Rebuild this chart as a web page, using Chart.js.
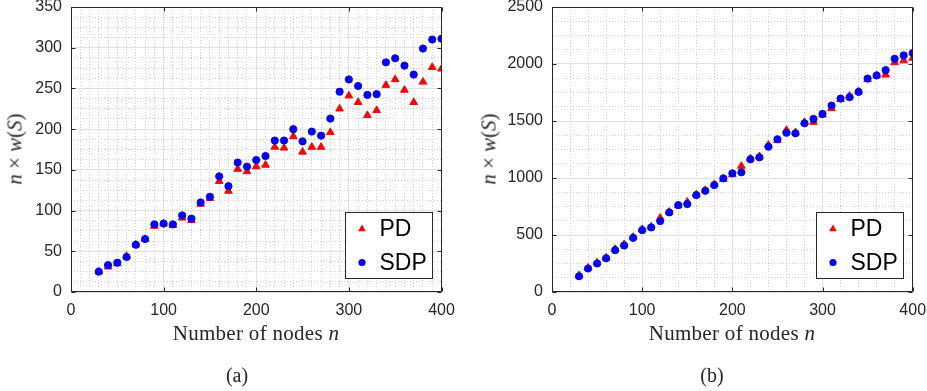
<!DOCTYPE html>
<html>
<head>
<meta charset="utf-8">
<script src="https://cdn.jsdelivr.net/npm/chart.js@4.4.1/dist/chart.umd.min.js"></script>
<style>
  body { margin: 0; background: #fff; }
  #wrap { position: relative; width: 927px; height: 391px; overflow: hidden; }
  canvas { position: absolute; top: 0; }
  .lbl { position: absolute; font-family: "Liberation Serif", serif; font-size: 20px; line-height: 1; color: #262626; white-space: nowrap; transform: translate(-50%, -50%); }
  .ttl { font-size: 21px; letter-spacing: 0.3px; }
  .ylbl { font-size: 21px; font-weight: normal; transform: translate(-50%, -50%) rotate(-90deg); }
  .op { margin: 0 0.25em; }
</style>
</head>
<body>
<div id="wrap">
  <canvas id="chartA" width="463" height="391" style="left:0"></canvas>
  <canvas id="chartB" width="464" height="391" style="left:463px"></canvas>

  <div class="lbl ylbl" style="left:15px; top:149px"><i>n</i><span class="op">×</span><i>w</i>(<i>S</i>)</div>
  <div class="lbl ylbl" style="left:489px; top:149px"><i>n</i><span class="op">×</span><i>w</i>(<i>S</i>)</div>
  <div class="lbl ttl" style="left:256px; top:333px">Number of nodes <i>n</i></div>
  <div class="lbl ttl" style="left:732px; top:333px">Number of nodes <i>n</i></div>
  <div class="lbl" style="left:237px; top:375px">(a)</div>
  <div class="lbl" style="left:712px; top:375px">(b)</div>
</div>

<script>
const nodes = [30, 40, 50, 60, 70, 80, 90, 100, 110, 120, 130, 140, 150, 160, 170, 180, 190, 200, 210,
               220, 230, 240, 250, 260, 270, 280, 290, 300, 310, 320, 330, 340, 350, 360, 370, 380, 390, 400];

// (a)
const pdA  = [25, 31, 35, 44, 58, 65, 81, 84, 82, 91, 88, 108, 115, 136, 124, 151, 148, 154, 156,
              178, 177, 191, 172, 178, 178, 196, 225, 241, 233, 217, 223, 254, 261, 248, 233, 258, 276, 274];
const sdpA = [25, 33, 36, 43, 58, 65, 83, 84, 83, 94, 90, 110, 117, 142, 130, 159, 154, 162, 167,
              186, 186, 200, 185, 197, 192, 213, 246, 261, 253, 242, 243, 282, 287, 278, 267, 299, 310, 311];

// (b)
const pdB  = [145, 212, 258, 300, 375, 418, 482, 550, 572, 650, 702, 758, 790, 855, 893, 945, 990, 1030, 1105,
              1170, 1190, 1290, 1330, 1420, 1400, 1490, 1490, 1555, 1610, 1690, 1720, 1760, 1865, 1900, 1905, 2013, 2030, 2052];
const sdpB = [138, 206, 250, 296, 367, 408, 475, 542, 566, 622, 698, 762, 771, 850, 888, 938, 997, 1041, 1050,
              1164, 1181, 1275, 1340, 1397, 1392, 1480, 1518, 1562, 1635, 1697, 1709, 1755, 1872, 1899, 1946, 2046, 2075, 2096];

const xTicks  = [0, 100, 200, 300, 400];
const yTicksA = [0, 50, 100, 150, 200, 250, 300, 350];
const yTicksB = [0, 500, 1000, 1500, 2000, 2500];

const seriesNames = ['PD', 'SDP'];

function toPoints(ys) {
  return nodes.map((n, i) => ({ x: n, y: ys[i] }));
}

// linear axis with matlab-ish major + dotted minor grid
function axis(min, max, minorStep, majors, size, horizontal) {
  const isMajor = v => majors.includes(v);
  return {
    type: 'linear',
    min: min,
    max: max,
    ticks: {
      stepSize: minorStep,
      autoSkip: false,
      maxRotation: 0,
      padding: 9,
      color: '#262626',
      font: { family: 'Liberation Sans', size: 16 },
      callback: v => isMajor(v) ? String(v) : ''
    },
    grid: {
      drawTicks: false,
      lineWidth: 1,
      color: c => (c.tick && !isMajor(c.tick.value)) ? '#d2d2d2' : '#e0e0e0'
    },
    border: {
      display: false,
      dash: c => (c.tick && !isMajor(c.tick.value)) ? [1, 2] : []
    },
    afterFit: s => {
      if (horizontal) s.height = size; else s.width = size;
      s.paddingTop = 0; s.paddingBottom = 0; s.paddingLeft = 0; s.paddingRight = 0;
    }
  };
}

const axesBox = {
  id: 'axesBox',
  afterDatasetsDraw(chart) {
    const { ctx, chartArea: a, scales: { x, y } } = chart;
    const L = Math.round(a.left) + 0.5, R = Math.round(a.right) - 0.5;
    const T = Math.round(a.top) + 0.5, B = Math.round(a.bottom) - 0.5;
    const len = 4;
    ctx.save();
    ctx.strokeStyle = '#262626';
    ctx.lineWidth = 1;
    ctx.beginPath();
    ctx.rect(L, T, R - L, B - T);
    x.ticks.forEach(t => {
      if (t.label === '') return;
      const px = Math.round(x.getPixelForValue(t.value)) + 0.5;
      ctx.moveTo(px, B); ctx.lineTo(px, B - len);
      ctx.moveTo(px, T); ctx.lineTo(px, T + len);
    });
    y.ticks.forEach(t => {
      if (t.label === '') return;
      const py = Math.round(y.getPixelForValue(t.value)) + 0.5;
      ctx.moveTo(L, py); ctx.lineTo(L + len, py);
      ctx.moveTo(R, py); ctx.lineTo(R - len, py);
    });
    ctx.stroke();
    ctx.restore();
  }
};

// legend box inside the axes, bottom right
const boxLegend = {
  id: 'boxLegend',
  afterDraw(chart) {
    const { ctx, chartArea: a } = chart;
    const w = 87, h = 66;
    const left = Math.round(a.right - 9.5 - w) + 0.5;
    const top = Math.round(a.bottom - 14.5 - h) + 0.5;
    ctx.save();
    ctx.fillStyle = '#fff';
    ctx.fillRect(left, top, w, h);
    ctx.strokeStyle = '#262626';
    ctx.lineWidth = 1;
    ctx.strokeRect(left, top, w, h);
    chart.data.datasets.forEach((ds, i) => {
      const cy = top + 16.5 + i * 33.5;
      const cx = left + 16.5;
      ctx.fillStyle = ds.backgroundColor;
      ctx.beginPath();
      if (ds.pointStyle === 'triangle') {
        const r = 4.4;
        ctx.moveTo(cx, cy - r);
        ctx.lineTo(cx + r * Math.sin(2 * Math.PI / 3), cy - r * Math.cos(2 * Math.PI / 3));
        ctx.lineTo(cx + r * Math.sin(4 * Math.PI / 3), cy - r * Math.cos(4 * Math.PI / 3));
        ctx.closePath();
      } else {
        ctx.arc(cx, cy, 3.6, 0, Math.PI * 2);
      }
      ctx.fill();
      ctx.fillStyle = '#000';
      ctx.font = '23px "Liberation Sans"';
      ctx.textBaseline = 'middle';
      ctx.fillText(ds.label, left + 34, cy + 1);
    });
    ctx.restore();
  }
};

function makeChart(id, pd, sdp, yMax, yMinor, yMajors, xMinor, yWidth, padRight) {
  const ctx = document.getElementById(id).getContext('2d');
  return new Chart(ctx, {
    type: 'scatter',
    data: {
      datasets: [{
        label: seriesNames[0],
        data: toPoints(pd),
        pointStyle: 'triangle',
        pointRadius: 4.4,
        backgroundColor: '#ff0000',
        borderColor: '#ff0000',
        borderWidth: 1,
        order: 2
      }, {
        label: seriesNames[1],
        data: toPoints(sdp),
        pointStyle: 'circle',
        pointRadius: 3.6,
        backgroundColor: '#0000ff',
        borderColor: '#0000ff',
        borderWidth: 1,
        order: 1
      }]
    },
    options: {
      responsive: false,
      animation: false,
      events: [],
      layout: { padding: { left: 0, top: 7, right: padRight, bottom: 0 } },
      plugins: {
        legend: { display: false },
        tooltip: { enabled: false }
      },
      scales: {
        x: axis(0, 400, xMinor, xTicks, 99, true),
        y: axis(0, yMax, yMinor, yMajors, yWidth, false)
      }
    },
    plugins: [axesBox, boxLegend]
  });
}

makeChart('chartA', pdA, sdpA, 350, 12.5, yTicksA, 10, 71, 21.5);
makeChart('chartB', pdB, sdpB, 2500, 125, yTicksB, 20, 89, 14.3);
</script>
</body>
</html>
